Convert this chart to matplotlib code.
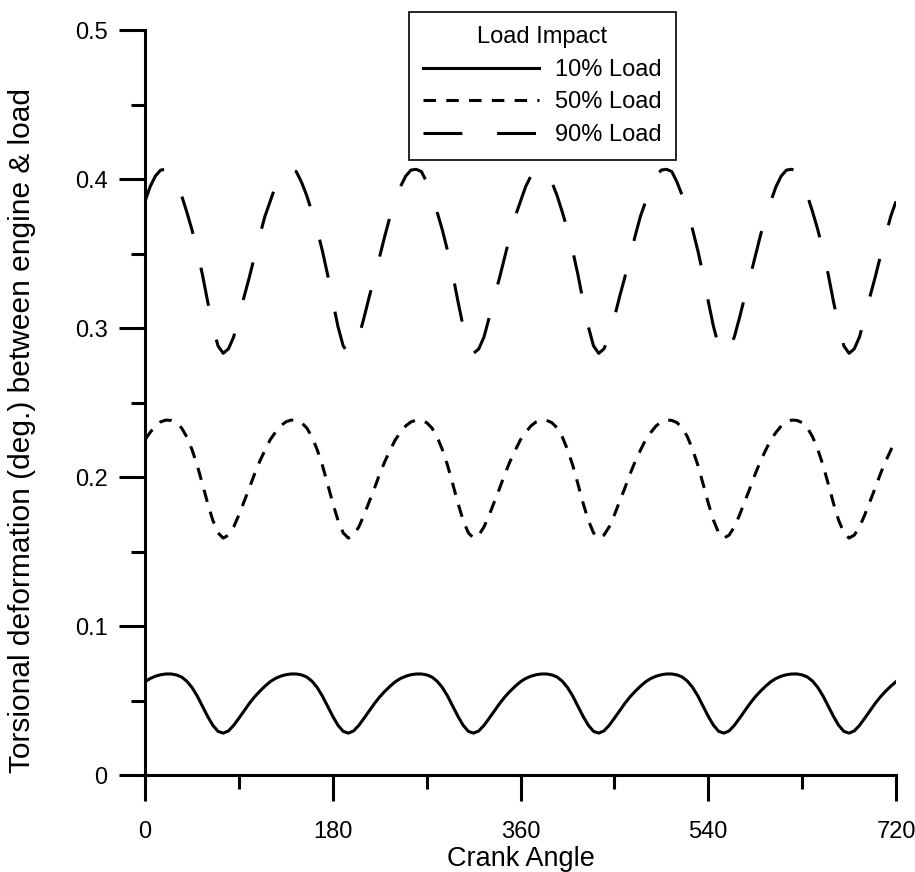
import numpy as np
import matplotlib
matplotlib.use('Agg')
import matplotlib.pyplot as plt

plt.rcParams['font.family'] = ['Liberation Sans', 'DejaVu Sans']
plt.rcParams['lines.scale_dashes'] = False

# crank angle, read every 5 deg
crank = np.arange(0, 725, 5)

# 10% load
load10 = [0.0626, 0.0648, 0.0663, 0.0673, 0.0678, 0.0678, 0.0672, 0.0658, 0.0630, 0.0588, 0.0531, 0.0463,
          0.0394, 0.0334, 0.0293, 0.0281, 0.0296, 0.0333, 0.0381, 0.0431, 0.0480, 0.0524, 0.0562, 0.0596,
          0.0626, 0.0648, 0.0663, 0.0673, 0.0678, 0.0678, 0.0672, 0.0658, 0.0630, 0.0588, 0.0531, 0.0463,
          0.0394, 0.0334, 0.0293, 0.0281, 0.0296, 0.0333, 0.0381, 0.0431, 0.0480, 0.0524, 0.0562, 0.0596,
          0.0626, 0.0648, 0.0663, 0.0673, 0.0678, 0.0678, 0.0672, 0.0658, 0.0630, 0.0588, 0.0531, 0.0463,
          0.0394, 0.0334, 0.0293, 0.0281, 0.0296, 0.0333, 0.0381, 0.0431, 0.0480, 0.0524, 0.0562, 0.0596,
          0.0626, 0.0648, 0.0663, 0.0673, 0.0678, 0.0678, 0.0672, 0.0658, 0.0630, 0.0588, 0.0531, 0.0463,
          0.0394, 0.0334, 0.0293, 0.0281, 0.0296, 0.0333, 0.0381, 0.0431, 0.0480, 0.0524, 0.0562, 0.0596,
          0.0626, 0.0648, 0.0663, 0.0673, 0.0678, 0.0678, 0.0672, 0.0658, 0.0630, 0.0588, 0.0531, 0.0463,
          0.0394, 0.0334, 0.0293, 0.0281, 0.0296, 0.0333, 0.0381, 0.0431, 0.0480, 0.0524, 0.0562, 0.0596,
          0.0626, 0.0648, 0.0663, 0.0673, 0.0678, 0.0678, 0.0672, 0.0658, 0.0630, 0.0588, 0.0531, 0.0463,
          0.0394, 0.0334, 0.0293, 0.0281, 0.0296, 0.0333, 0.0381, 0.0431, 0.0480, 0.0524, 0.0562, 0.0596,
          0.0626]

# 50% load
load50 = [0.2250, 0.2300, 0.2343, 0.2370, 0.2382, 0.2380, 0.2365, 0.2330, 0.2270, 0.2185, 0.2080, 0.1955,
          0.1825, 0.1710, 0.1625, 0.1590, 0.1610, 0.1665, 0.1745, 0.1835, 0.1925, 0.2020, 0.2105, 0.2180,
          0.2250, 0.2300, 0.2343, 0.2370, 0.2382, 0.2380, 0.2365, 0.2330, 0.2270, 0.2185, 0.2080, 0.1955,
          0.1825, 0.1710, 0.1625, 0.1590, 0.1610, 0.1665, 0.1745, 0.1835, 0.1925, 0.2020, 0.2105, 0.2180,
          0.2250, 0.2300, 0.2343, 0.2370, 0.2382, 0.2380, 0.2365, 0.2330, 0.2270, 0.2185, 0.2080, 0.1955,
          0.1825, 0.1710, 0.1625, 0.1590, 0.1610, 0.1665, 0.1745, 0.1835, 0.1925, 0.2020, 0.2105, 0.2180,
          0.2250, 0.2300, 0.2343, 0.2370, 0.2382, 0.2380, 0.2365, 0.2330, 0.2270, 0.2185, 0.2080, 0.1955,
          0.1825, 0.1710, 0.1625, 0.1590, 0.1610, 0.1665, 0.1745, 0.1835, 0.1925, 0.2020, 0.2105, 0.2180,
          0.2250, 0.2300, 0.2343, 0.2370, 0.2382, 0.2380, 0.2365, 0.2330, 0.2270, 0.2185, 0.2080, 0.1955,
          0.1825, 0.1710, 0.1625, 0.1590, 0.1610, 0.1665, 0.1745, 0.1835, 0.1925, 0.2020, 0.2105, 0.2180,
          0.2250, 0.2300, 0.2343, 0.2370, 0.2382, 0.2380, 0.2365, 0.2330, 0.2270, 0.2185, 0.2080, 0.1955,
          0.1825, 0.1710, 0.1625, 0.1590, 0.1610, 0.1665, 0.1745, 0.1835, 0.1925, 0.2020, 0.2105, 0.2180,
          0.2250]

# 90% load
load90 = [0.385, 0.395, 0.402, 0.406, 0.4065, 0.405, 0.398, 0.389, 0.378, 0.366, 0.352, 0.336,
          0.318, 0.301, 0.288, 0.283, 0.286, 0.294, 0.307, 0.321, 0.334, 0.348, 0.362, 0.375,
          0.385, 0.395, 0.402, 0.406, 0.4065, 0.405, 0.398, 0.389, 0.378, 0.366, 0.352, 0.336,
          0.318, 0.301, 0.288, 0.283, 0.286, 0.294, 0.307, 0.321, 0.334, 0.348, 0.362, 0.375,
          0.385, 0.395, 0.402, 0.406, 0.4065, 0.405, 0.398, 0.389, 0.378, 0.366, 0.352, 0.336,
          0.318, 0.301, 0.288, 0.283, 0.286, 0.294, 0.307, 0.321, 0.334, 0.348, 0.362, 0.375,
          0.385, 0.395, 0.402, 0.406, 0.4065, 0.405, 0.398, 0.389, 0.378, 0.366, 0.352, 0.336,
          0.318, 0.301, 0.288, 0.283, 0.286, 0.294, 0.307, 0.321, 0.334, 0.348, 0.362, 0.375,
          0.385, 0.395, 0.402, 0.406, 0.4065, 0.405, 0.398, 0.389, 0.378, 0.366, 0.352, 0.336,
          0.318, 0.301, 0.288, 0.283, 0.286, 0.294, 0.307, 0.321, 0.334, 0.348, 0.362, 0.375,
          0.385, 0.395, 0.402, 0.406, 0.4065, 0.405, 0.398, 0.389, 0.378, 0.366, 0.352, 0.336,
          0.318, 0.301, 0.288, 0.283, 0.286, 0.294, 0.307, 0.321, 0.334, 0.348, 0.362, 0.375,
          0.385]

xticks = [0, 180, 360, 540, 720]
xminor = [90, 270, 450, 630]
yticks = [0, 0.1, 0.2, 0.3, 0.4, 0.5]
ylabels = ['0', '0.1', '0.2', '0.3', '0.4', '0.5']
yminor = [0.05, 0.15, 0.25, 0.35, 0.45]

fig = plt.figure(figsize=(9.15, 8.72), dpi=100)
ax = fig.add_axes([145 / 915, 97 / 872, 751 / 915, 745 / 872])

lw = 2.2
ax.plot(crank, load10, color='k', lw=lw, label='10% Load')
ax.plot(crank, load50, color='k', lw=lw, dashes=(9, 7.4), label='50% Load')
ax.plot(crank, load90, color='k', lw=lw, dashes=(28, 25), label='90% Load')

ax.set_xlim(0, 720)
ax.set_ylim(0, 0.5)

# Turn off top/right axes
ax.spines['top'].set_visible(False)
ax.spines['right'].set_visible(False)
ax.spines['left'].set_linewidth(lw)
ax.spines['bottom'].set_linewidth(lw)

ax.set_xticks(xticks)
ax.set_xticks(xminor, minor=True)
ax.set_yticks(yticks)
ax.set_yticklabels(ylabels)
ax.set_yticks(yminor, minor=True)
ax.tick_params(which='major', direction='out', length=19, width=lw, labelsize=17)
ax.tick_params(which='minor', direction='out', length=10, width=lw)
ax.tick_params(axis='x', which='major', pad=14)
ax.tick_params(axis='y', which='major', pad=8)

ax.set_xlabel('Crank Angle', fontsize=19.5)
ax.xaxis.set_label_coords(0.5, -0.095)
ax.set_ylabel('Torsional deformation (deg.) between engine & load', fontsize=21.5)
ax.yaxis.set_label_coords(-0.145, 0.463)

leg = ax.legend(title='Load Impact', loc='upper left', bbox_to_anchor=(409 / 915, 1 - 12 / 872),
                bbox_transform=fig.transFigure, fontsize=17, title_fontsize=17, frameon=True,
                fancybox=False, edgecolor='k', framealpha=1, handlelength=4.9, handletextpad=0.68,
                labelspacing=0.45, borderpad=0.6, borderaxespad=0)
leg.get_frame().set_linewidth(1.2)

fig.savefig('out.png', dpi=100)
